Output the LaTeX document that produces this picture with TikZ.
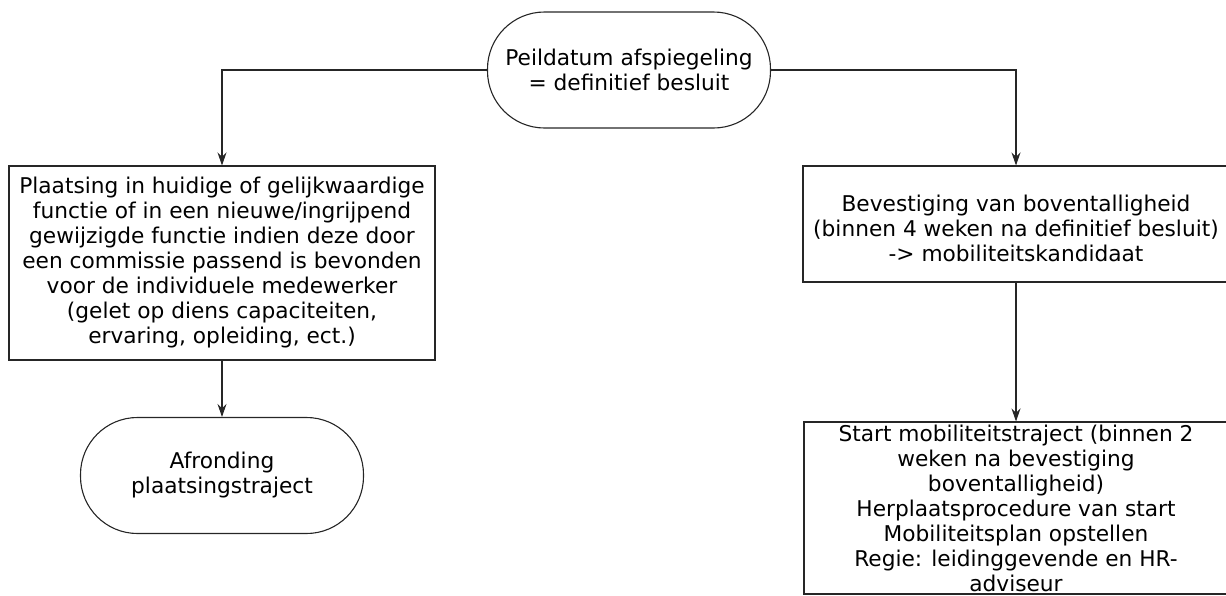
\documentclass[tikz,border=0pt]{standalone}
\usepackage{fontspec}
\setmainfont{DejaVu Sans}
\usetikzlibrary{arrows.meta}
\begin{document}
\begin{tikzpicture}[x=1pt,y=-1pt,
  every node/.style={font=\fontsize{21.7}{25}\selectfont, align=center, inner sep=0pt, line width=1.1pt, draw=black!85},
  term/.style={rounded corners=57pt, minimum width=283pt, minimum height=116pt},
  proc/.style={rectangle, minimum width=426pt},
  wide/.style={rectangle, minimum width=434pt},
  conn/.style={line width=1.1pt, draw=black!85, -{Stealth[length=13pt,width=9pt]}}
]
\useasboundingbox (0,0) rectangle (1226,595);
\node[term] (top) at (629,70) {Peildatum afspiegeling\\= definitief besluit};
\node[proc, minimum height=194pt] (left) at (222,263) {Plaatsing in huidige of gelijkwaardige\\functie of in een nieuwe/ingrijpend\\gewijzigde functie indien deze door\\een commissie passend is bevonden\\voor de individuele medewerker\\(gelet op diens capaciteiten,\\ervaring, opleiding, ect.)};
\node[term] (end) at (222,475.5) {Afronding\\plaatsingstraject};
\node[wide, minimum height=116pt] (conf) at (1020,224) {};
\node[draw=none] (conft) at (1016,228) {Bevestiging van boventalligheid\\(binnen 4 weken na definitief besluit)\\-> mobiliteitskandidaat};
\node[wide, minimum height=172pt] (start) at (1021,508) {};
\node[draw=none] (startt) at (1016,508) {Start mobiliteitstraject (binnen 2\\weken na bevestiging\\boventalligheid)\\Herplaatsprocedure van start\\Mobiliteitsplan opstellen\\Regie: leidinggevende en HR-\\adviseur};
\draw[conn] (top.west) -| (left.north);
\draw[conn] (top.east) -| (conft.north |- conf.north);
\draw[conn] (left.south) -- (end.north);
\draw[conn] (conft.south |- conf.south) -- (startt.north |- start.north);
\end{tikzpicture}
\end{document}
